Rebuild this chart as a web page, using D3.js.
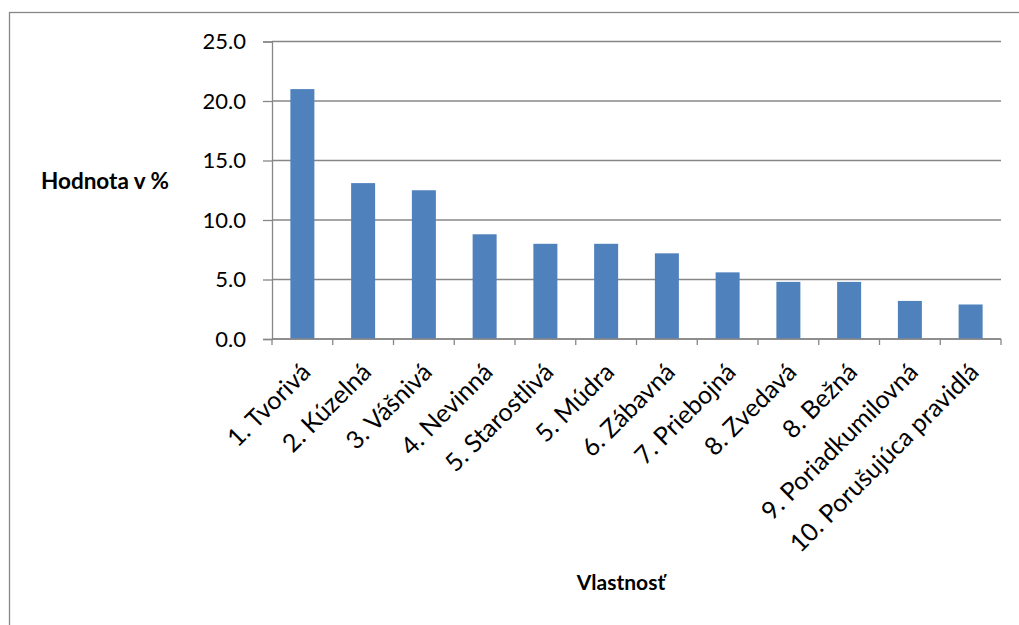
<!DOCTYPE html>
<html>
<head>
<meta charset="utf-8">
<script src="https://cdn.jsdelivr.net/npm/d3@7"></script>
<style>
  html, body { margin: 0; padding: 0; background: #fff; }
  svg { display: block; }
</style>
</head>
<body>
<svg id="chart" width="1019" height="625"></svg>
<script>
const categories = ["1. Tvorivá", "2. Kúzelná", "3. Vášnivá", "4. Nevinná", "5. Starostlivá", "5. Múdra",
  "6. Zábavná", "7. Priebojná", "8. Zvedavá", "8. Bežná", "9. Poriadkumilovná", "10. Porušujúca pravidlá"];
const values = [21.0, 13.1, 12.5, 8.8, 8.0, 8.0, 7.2, 5.6, 4.8, 4.8, 3.2, 2.9];
const yTicks = [0, 5, 10, 15, 20, 25];
const yTitle = "Hodnota v %";
const xTitle = "Vlastnosť";

const W = 1019, H = 625;
const margin = { left: 272, top: 41.5, right: 18, bottom: 286 };
const plotW = W - margin.left - margin.right;
const plotH = H - margin.top - margin.bottom;
const font = "Lato, 'Open Sans', sans-serif";
const gray = "#878787";

const svg = d3.select("#chart");

// outer border
svg.append("rect")
  .attr("x", 9.5).attr("y", 12.5)
  .attr("width", W + 20).attr("height", H + 20)
  .attr("fill", "none").attr("stroke", gray).attr("stroke-width", 1.3);

const g = svg.append("g").attr("transform", `translate(${margin.left},${margin.top})`);

const x = d3.scaleBand().domain(categories).range([0, plotW]).paddingInner(0.605).paddingOuter(0.3025);
const xb = d3.scaleBand().domain(categories).range([0, plotW]);
const y = d3.scaleLinear().domain([0, 25]).range([plotH, 0]);

// gridlines
g.append("g").selectAll("line").data(yTicks).join("line")
  .attr("x1", 0).attr("x2", plotW)
  .attr("y1", d => y(d)).attr("y2", d => y(d))
  .attr("stroke", gray).attr("stroke-width", 1.3);

// bars
g.append("g").selectAll("rect").data(values).join("rect")
  .attr("x", (d, i) => x(categories[i]))
  .attr("width", x.bandwidth())
  .attr("y", d => y(d))
  .attr("height", d => y(0) - y(d))
  .attr("fill", "#4F81BD");

// y axis
const yAxis = g.append("g")
  .call(d3.axisLeft(y).tickValues(yTicks).tickFormat(d3.format(".1f")).tickSize(9).tickPadding(17));
yAxis.select(".domain").attr("stroke", gray).attr("stroke-width", 1.3);
yAxis.selectAll(".tick line").attr("stroke", gray).attr("stroke-width", 1.3);
yAxis.selectAll(".tick text").attr("font-family", font).attr("font-size", 22).attr("fill", "#000");

// x axis
const xa = g.append("g").attr("transform", `translate(0,${plotH})`);
xa.append("line").attr("x1", 0).attr("x2", plotW).attr("y1", 0).attr("y2", 0)
  .attr("stroke", gray).attr("stroke-width", 1.3);
const boundaries = categories.map(c => xb(c)).concat([plotW]);
xa.selectAll("line.tk").data(boundaries).join("line").attr("class", "tk")
  .attr("x1", d => d).attr("x2", d => d).attr("y1", 0).attr("y2", 6)
  .attr("stroke", gray).attr("stroke-width", 1.3);
xa.selectAll("text").data(categories).join("text")
  .attr("transform", d => `translate(${xb(d) + xb.bandwidth() / 2 - 3},${22}) rotate(-45)`)
  .attr("text-anchor", "end")
  .attr("dy", "0.72em")
  .attr("font-family", font).attr("font-size", 25).attr("fill", "#000")
  .text(d => d);

// axis titles
svg.append("text").attr("x", 41).attr("y", 188.5)
  .attr("font-family", font).attr("font-weight", "bold").attr("font-size", 22.5).attr("fill", "#000")
  .text(yTitle);
svg.append("text").attr("x", 621).attr("y", 590).attr("text-anchor", "middle")
  .attr("font-family", font).attr("font-weight", "bold").attr("font-size", 21).attr("fill", "#000")
  .text(xTitle);
</script>
</body>
</html>
